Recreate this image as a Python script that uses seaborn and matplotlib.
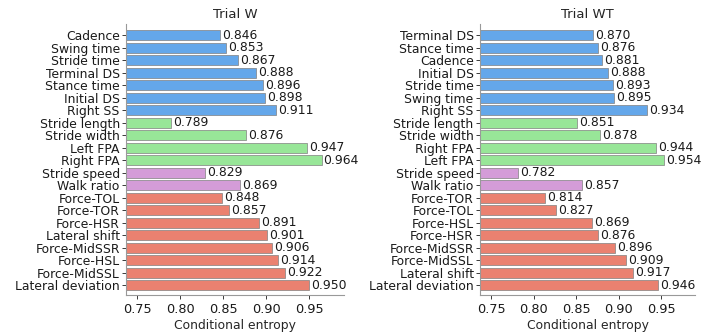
import matplotlib
matplotlib.use("Agg")
import matplotlib.pyplot as plt
import pandas as pd
import seaborn as sns

# Trial W: features (top to bottom), their conditional entropy and feature group
w_features = ["Cadence", "Swing time", "Stride time", "Terminal DS", "Stance time",
              "Initial DS", "Right SS", "Stride length", "Stride width", "Left FPA",
              "Right FPA", "Stride speed", "Walk ratio", "Force-TOL", "Force-TOR",
              "Force-HSR", "Lateral shift", "Force-MidSSR", "Force-HSL",
              "Force-MidSSL", "Lateral deviation"]
w_values = [0.846, 0.853, 0.867, 0.888, 0.896, 0.898, 0.911, 0.789, 0.876, 0.947,
            0.964, 0.829, 0.869, 0.848, 0.857, 0.891, 0.901, 0.906, 0.914, 0.922,
            0.950]
w_groups = (["Temporal"] * 7 + ["Spatial"] * 4 + ["Spatiotemporal"] * 2
            + ["Force/Balance"] * 8)

# Trial WT
wt_features = ["Terminal DS", "Stance time", "Cadence", "Initial DS", "Stride time",
               "Swing time", "Right SS", "Stride length", "Stride width", "Right FPA",
               "Left FPA", "Stride speed", "Walk ratio", "Force-TOR", "Force-TOL",
               "Force-HSL", "Force-HSR", "Force-MidSSR", "Force-MidSSL",
               "Lateral shift", "Lateral deviation"]
wt_values = [0.870, 0.876, 0.881, 0.888, 0.893, 0.895, 0.934, 0.851, 0.878, 0.944,
             0.954, 0.782, 0.857, 0.814, 0.827, 0.869, 0.876, 0.896, 0.909, 0.917,
             0.946]
wt_groups = w_groups

group_order = ["Temporal", "Spatial", "Spatiotemporal", "Force/Balance"]
group_colors = ["#64a7ea", "#98e698", "#d49cd8", "#ea8170"]

sns.set_theme(style="ticks")
plt.rcParams["font.family"] = ["DejaVu Sans"]

fig = plt.figure(figsize=(7.18, 3.33), dpi=100)
axes = [fig.add_axes([0.1755, 0.1155, 0.3035, 0.8125]),
        fig.add_axes([0.6685, 0.1155, 0.2995, 0.8125])]

panels = [("Trial W", w_features, w_values, w_groups),
          ("Trial WT", wt_features, wt_values, wt_groups)]

fs = 8.9
for ax, (title, feats, vals, groups) in zip(axes, panels):
    df = pd.DataFrame({"feature": feats, "entropy": vals, "group": groups})
    sns.barplot(data=df, y="feature", x="entropy", hue="group",
                hue_order=group_order, palette=group_colors, order=feats,
                dodge=False, legend=False, saturation=1, width=0.8,
                edgecolor="0.5", linewidth=0.5, ax=ax)
    for cont in ax.containers:
        ax.bar_label(cont, fmt="%.3f", padding=1.5, fontsize=fs, color="0.1")
    ax.set_xlim(0.737, 0.99)
    ax.set_ylim(20.76, -0.92)
    ax.set_xticks([0.75, 0.80, 0.85, 0.90, 0.95])
    ax.set_xticklabels(["0.75", "0.80", "0.85", "0.90", "0.95"])
    ax.set_ylabel("")
    ax.set_xlabel("Conditional entropy", fontsize=fs, color="0.15", labelpad=2)
    ax.set_title(title, fontsize=9.5, color="0.15", pad=4)
    ax.tick_params(axis="both", labelsize=fs, colors="0.1", length=3,
                   width=0.6, pad=1.5)
    ax.tick_params(axis="x", labelsize=9.3, pad=3)
    for s in ("left", "bottom"):
        ax.spines[s].set_color("0.6")
        ax.spines[s].set_linewidth(0.8)
    sns.despine(ax=ax)

fig.savefig("out.png", dpi=100)
